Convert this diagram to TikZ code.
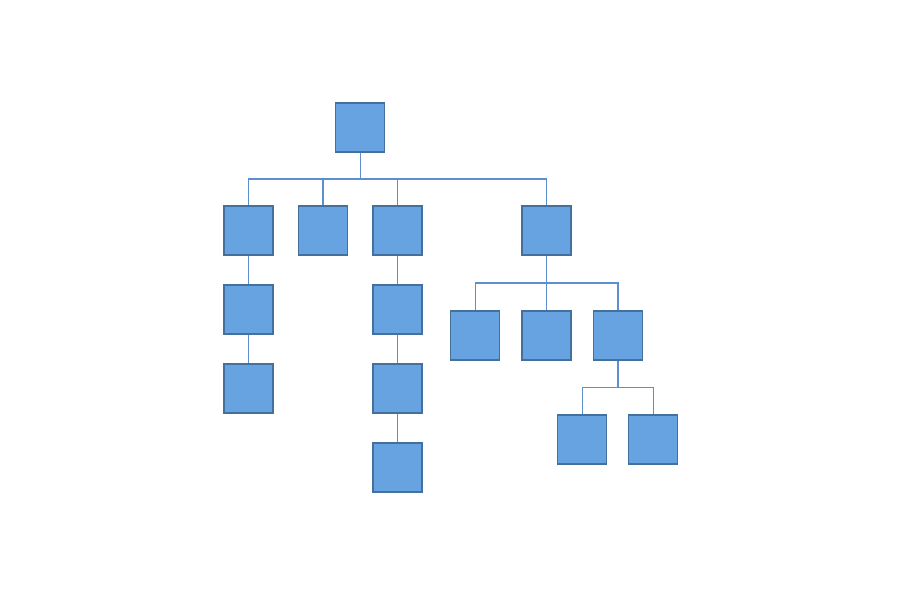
\documentclass[tikz,border=0pt]{standalone}
\usetikzlibrary{trees}
\definecolor{boxfill}{HTML}{66A3E0}
\definecolor{boxline}{HTML}{44709E}
\definecolor{linkblue}{HTML}{5B8FCF}

\begin{document}
\begin{tikzpicture}[x=1pt, y=1pt, grow=down, level distance=104pt,
  every node/.style = {shape=rectangle, draw=boxline, fill=boxfill,
    line width=1.4pt, minimum size=49pt, inner sep=0pt},
  edge from parent fork down,
  edge from parent/.style = {draw=linkblue, line width=1.5pt},
  level 1/.style = {sibling distance=74.5pt, level distance=103pt},
  level 2/.style = {sibling distance=71.25pt, level distance=105pt},
  level 3/.style = {sibling distance=71pt, level distance=104pt},
  single/.style = {level distance=79pt}]
  \useasboundingbox (0,0) rectangle (900,600);
  \node (root) at (360.25,472.5) {}
    child[missing]
    child { node (a) {}
      child[single] { node (a1) {}
        child[single] { node (a2) {} } } }
    child { node (b) {} }
    child { node (c) {}
      child[single] { node (c1) {}
        child[single] { node (c2) {}
          child[single] { node (c3) {} } } } }
    child[missing]
    child { node (d) {}
      child { node (d1) {} }
      child { node (d2) {} }
      child { node (d3) {}
        child { node (e1) {} }
        child { node (e2) {} } } };
\end{tikzpicture}
\end{document}
